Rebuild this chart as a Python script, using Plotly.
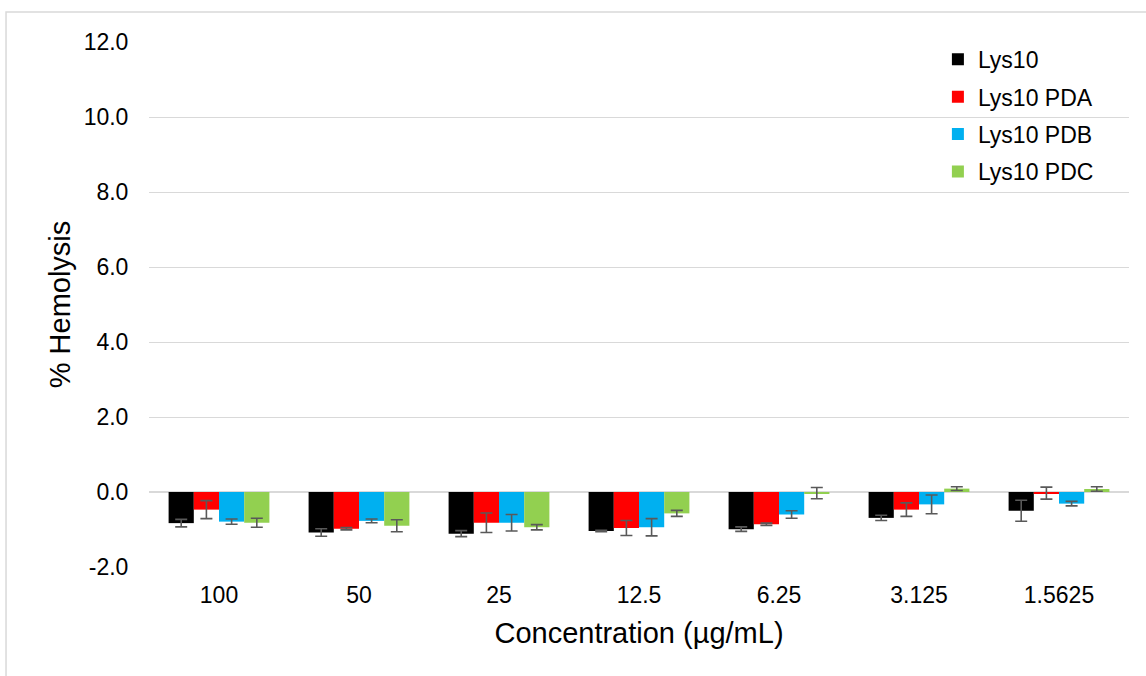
import plotly.graph_objects as go

# Concentrations tested (µg/mL), shown as categories
concentrations = ["100", "50", "25", "12.5", "6.25", "3.125", "1.5625"]

# Mean % hemolysis and standard deviation per formulation
lys10 = [-0.83, -1.08, -1.11, -1.04, -0.99, -0.69, -0.50]
lys10_sd = [0.10, 0.10, 0.08, 0.02, 0.06, 0.07, 0.28]

lys10_pda = [-0.47, -0.98, -0.82, -0.96, -0.86, -0.47, -0.03]
lys10_pda_sd = [0.24, 0.03, 0.26, 0.20, 0.03, 0.18, 0.16]

lys10_pdb = [-0.79, -0.77, -0.82, -0.94, -0.60, -0.33, -0.31]
lys10_pdb_sd = [0.07, 0.05, 0.22, 0.23, 0.10, 0.25, 0.06]

lys10_pdc = [-0.82, -0.90, -0.94, -0.57, -0.03, 0.09, 0.08]
lys10_pdc_sd = [0.12, 0.16, 0.07, 0.08, 0.15, 0.05, 0.06]

y_ticks = [-2, 0, 2, 4, 6, 8, 10, 12]
y_tick_labels = ["-2.0", "0.0", "2.0", "4.0", "6.0", "8.0", "10.0", "12.0"]

series = [
    ("Lys10", lys10, lys10_sd, "#000000"),
    ("Lys10 PDA", lys10_pda, lys10_pda_sd, "#FF0000"),
    ("Lys10 PDB", lys10_pdb, lys10_pdb_sd, "#00B0F0"),
    ("Lys10 PDC", lys10_pdc, lys10_pdc_sd, "#92D050"),
]

FONT = "Liberation Sans, Arial, sans-serif"

fig = go.Figure()
for i, (name, vals, sd, color) in enumerate(series):
    fig.add_trace(go.Bar(
        name=name,
        x=concentrations,
        y=vals,
        marker=dict(color=color, line=dict(width=0)),
        error_y=dict(type="data", array=sd, visible=True,
                     color="#595959", thickness=1.6, width=6),
        legendgroup=f"g{i}",
    ))

fig.update_layout(
    width=1146,
    height=676,
    barmode="group",
    bargap=0.28,
    bargroupgap=0,
    plot_bgcolor="white",
    paper_bgcolor="white",
    font=dict(family=FONT, color="#000000", size=23),
    margin=dict(l=149, r=17, t=42, b=109),
    showlegend=True,
    legend=dict(
        x=0.805, y=1.008, xanchor="left", yanchor="top",
        font=dict(family=FONT, size=23, color="#000000"),
        bgcolor="rgba(255,255,255,0)",
        traceorder="grouped",
        tracegroupgap=4.5,
        itemwidth=30,
    ),
    xaxis=dict(
        showgrid=False,
        showline=False,
        ticks="outside",
        ticklen=7,
        tickcolor="rgba(0,0,0,0)",
        tickfont=dict(family=FONT, size=23),
        title=dict(text="Concentration (µg/mL)",
                   font=dict(family=FONT, size=29), standoff=16),
    ),
    yaxis=dict(
        range=[-2, 12],
        tickvals=y_ticks,
        ticktext=y_tick_labels,
        showgrid=True,
        gridcolor="#D9D9D9",
        gridwidth=1,
        zeroline=True,
        zerolinecolor="#D9D9D9",
        zerolinewidth=1.5,
        showline=False,
        ticks="outside",
        ticklen=15,
        tickcolor="rgba(0,0,0,0)",
        tickfont=dict(family=FONT, size=23),
        title=dict(text="% Hemolysis",
                   font=dict(family=FONT, size=29), standoff=4),
    ),
)

# Light chart-area frame around the whole figure
fig.add_shape(
    type="rect", xref="paper", yref="paper",
    x0=-0.1459, x1=1.05, y0=-0.25, y1=1.0571,
    line=dict(color="#D9D9D9", width=1.5),
    fillcolor="rgba(0,0,0,0)", layer="below",
)

fig.write_html("out.html")
